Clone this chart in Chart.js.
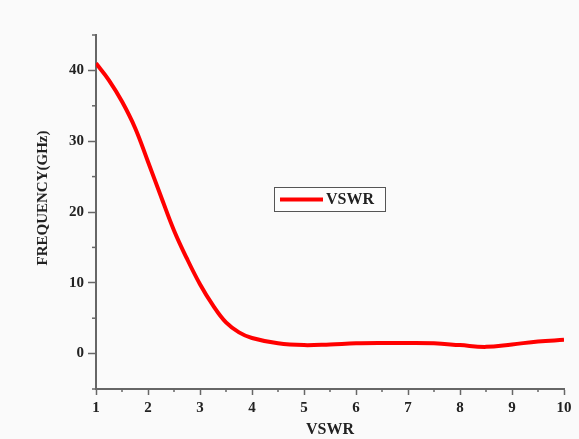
<!DOCTYPE html>
<html>
<head>
<meta charset="utf-8">
<script src="https://cdn.jsdelivr.net/npm/chart.js@4.4.1/dist/chart.umd.min.js"></script>
<style>
  html, body { margin: 0; padding: 0; background: #fafafa; }
  #wrap { width: 579px; height: 439px; }
</style>
</head>
<body>
<div id="wrap"><canvas id="grafico" width="579" height="439"></canvas></div>
<script>
// Dados
const vswr = [1, 1.25, 1.5, 1.75, 2, 2.25, 2.5, 2.75, 3, 3.25, 3.5, 3.75, 4, 4.5, 5, 5.5, 6, 6.5, 7, 7.5, 8, 8.5, 9, 9.5, 10];
const frequencia = [41, 38.6, 35.6, 31.9, 27.1, 22.2, 17.4, 13.4, 9.8, 6.8, 4.4, 3.0, 2.2, 1.45, 1.2, 1.3, 1.45, 1.5, 1.5, 1.45, 1.2, 0.95, 1.3, 1.7, 1.95];
const serieNome = "VSWR";
const tituloX = "VSWR";
const tituloY = "FREQUENCY(GHz)";

const fonte = "'Liberation Serif', 'Times New Roman', serif";
const corEixo = "#666";

// Ticks menores (sem rótulo) e título do eixo Y
const ticksMenores = {
	id: "ticksMenores",
	afterDraw(chart) {
		const { ctx, scales } = chart;
		ctx.save();
		ctx.strokeStyle = corEixo;
		ctx.lineWidth = 1.5;
		scales.x.ticks.forEach((t) => {
			if (t.value % 1 !== 0) {
				const px = scales.x.getPixelForValue(t.value);
				ctx.beginPath();
				ctx.moveTo(px, scales.x.top);
				ctx.lineTo(px, scales.x.top + 3);
				ctx.stroke();
			}
		});
		scales.y.ticks.forEach((t) => {
			if (t.value % 10 !== 0) {
				const py = scales.y.getPixelForValue(t.value);
				ctx.beginPath();
				ctx.moveTo(scales.y.right - 4, py);
				ctx.lineTo(scales.y.right, py);
				ctx.stroke();
			}
		});
		// título do eixo Y
		ctx.fillStyle = "#222";
		ctx.font = "bold 15px " + fonte;
		ctx.textAlign = "center";
		ctx.textBaseline = "middle";
		ctx.translate(43, 198);
		ctx.rotate(-Math.PI / 2);
		ctx.fillText(tituloY, 0, 0);
		ctx.restore();
	},
};

// Legenda dentro da área do gráfico
const legendaCaixa = {
	id: "legendaCaixa",
	afterDraw(chart) {
		const { ctx } = chart;
		const ds = chart.data.datasets[0];
		ctx.save();
		ctx.fillStyle = "#fdfdfd";
		ctx.fillRect(274, 187, 111, 24);
		ctx.strokeStyle = "#555";
		ctx.lineWidth = 1;
		ctx.strokeRect(274.5, 187.5, 111, 24);
		ctx.strokeStyle = ds.borderColor;
		ctx.lineWidth = 4;
		ctx.beginPath();
		ctx.moveTo(280, 199.5);
		ctx.lineTo(323, 199.5);
		ctx.stroke();
		ctx.fillStyle = "#222";
		ctx.font = "bold 16px " + fonte;
		ctx.textBaseline = "middle";
		ctx.fillText(ds.label, 326, 200);
		ctx.restore();
	},
};

const ctx = document.getElementById("grafico").getContext("2d");
const grafico = new Chart(ctx, {
	type: "line",
	data: {
		datasets: [
			{
				label: serieNome,
				data: vswr.map((v, i) => ({ x: v, y: frequencia[i] })),
				borderColor: "#ff0000",
				borderWidth: 4,
				pointRadius: 0,
				tension: 0.4,
				fill: false,
			},
		],
	},
	options: {
		responsive: false,
		animation: false,
		layout: { padding: { top: 35, right: 15, left: 0, bottom: 0 } },
		plugins: {
			legend: { display: false },
			tooltip: { enabled: false },
		},
		scales: {
			x: {
				type: "linear",
				min: 1,
				max: 10,
				afterFit: (s) => { s.height = 50; },
				border: { display: true, color: corEixo, width: 2 },
				grid: {
					drawOnChartArea: false,
					tickLength: 6,
					tickWidth: 1.5,
					tickColor: (c) => (c.tick && c.tick.value % 1 === 0 ? corEixo : "transparent"),
				},
				ticks: {
					stepSize: 0.5,
					autoSkip: false,
					maxRotation: 0,
					padding: 4,
					color: "#222",
					font: { family: fonte, size: 15, weight: "bold" },
					callback: (v) => (v % 1 === 0 ? v : ""),
				},
				title: {
					display: true,
					text: tituloX,
					color: "#222",
					font: { family: fonte, size: 16, weight: "bold" },
					padding: { top: 0, bottom: 0 },
				},
			},
			y: {
				min: -5,
				max: 45,
				afterFit: (s) => { s.width = 96; },
				border: { display: true, color: corEixo, width: 2 },
				grid: {
					drawOnChartArea: false,
					tickLength: 8,
					tickWidth: 1.5,
					tickColor: (c) => (c.tick && c.tick.value % 10 === 0 ? corEixo : "transparent"),
				},
				ticks: {
					stepSize: 5,
					padding: 4,
					color: "#222",
					font: { family: fonte, size: 15, weight: "bold" },
					callback: (v) => (v % 10 === 0 ? v : ""),
				},
				title: { display: false },
			},
		},
	},
	plugins: [ticksMenores, legendaCaixa],
});
</script>
</body>
</html>
